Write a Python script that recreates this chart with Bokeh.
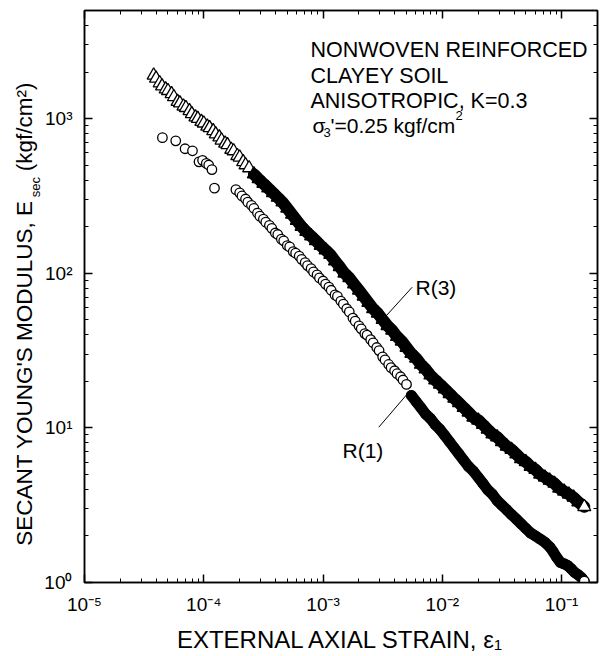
from bokeh.plotting import figure
from bokeh.models import (ColumnDataSource, FixedTicker, CustomJSTickFormatter,
                          LogAxis, LinearAxis, LinearScale, Range1d, Label, Arrow)
from bokeh.core.properties import field
from bokeh.embed import file_html
from bokeh.resources import INLINE

# ---------------------------------------------------------------------------
# Secant Young's modulus vs external axial strain, two specimens
# ---------------------------------------------------------------------------

# R(3): open triangles
r3_strain = [
    3.80e-5, 3.98e-5, 4.27e-5, 4.47e-5, 4.79e-5, 5.01e-5, 5.37e-5, 5.62e-5,
    6.03e-5, 6.31e-5, 6.76e-5, 7.08e-5, 7.59e-5, 7.94e-5, 8.51e-5, 8.91e-5,
    9.55e-5, 1.00e-4, 1.07e-4, 1.12e-4, 1.20e-4, 1.26e-4, 1.35e-4, 1.41e-4,
    1.51e-4, 1.58e-4, 1.70e-4, 1.78e-4, 1.91e-4, 2.00e-4, 2.14e-4, 2.24e-4,
    2.40e-4,
    2.63e-4, 2.88e-4, 3.16e-4, 3.47e-4, 3.80e-4, 4.17e-4, 4.57e-4, 5.01e-4,
    5.50e-4, 6.03e-4, 6.61e-4, 7.24e-4, 7.94e-4, 8.71e-4, 9.55e-4,
    1.05e-3, 1.15e-3, 1.26e-3, 1.38e-3, 1.51e-3, 1.66e-3, 1.82e-3, 2.00e-3,
    2.19e-3, 2.40e-3, 2.63e-3, 2.88e-3, 3.16e-3, 3.47e-3, 3.80e-3, 4.17e-3,
    4.57e-3, 5.01e-3, 5.50e-3, 6.03e-3, 6.61e-3, 7.24e-3, 7.94e-3, 8.71e-3,
    9.55e-3,
    1.05e-2, 1.15e-2, 1.26e-2, 1.38e-2, 1.51e-2, 1.66e-2, 1.82e-2, 2.00e-2,
    2.19e-2, 2.40e-2, 2.63e-2, 2.88e-2, 3.16e-2, 3.47e-2, 3.80e-2, 4.17e-2,
    4.57e-2, 5.01e-2, 5.50e-2, 6.03e-2, 6.61e-2, 7.24e-2, 7.94e-2, 8.71e-2,
    9.55e-2,
    0.105, 0.115, 0.126, 0.138, 0.155,
]
r3_modulus = [
    1905, 1820, 1698, 1622, 1549, 1514, 1445, 1380,
    1288, 1259, 1202, 1175, 1122, 1072, 1023, 1000,
    955, 933, 891, 871, 832, 794, 759, 724,
    692, 676, 631, 617, 575, 562, 525, 501,
    479,
    437, 407, 380, 355, 331, 309, 288, 263,
    240, 219, 200, 186, 174, 162, 151,
    141, 132, 120, 110, 100, 93.3, 85.1, 77.6,
    70.8, 64.6, 58.9, 55.0, 50.1, 45.7, 42.7, 38.9,
    36.3, 33.1, 30.2, 28.2, 25.7, 24.0, 21.9, 20.4,
    19.1,
    17.8, 16.6, 15.5, 14.5, 13.5, 12.6, 11.7, 11.2,
    10.5, 9.77, 9.12, 8.71, 8.13, 7.59, 7.24, 6.76,
    6.31, 6.03, 5.62, 5.37, 5.01, 4.79, 4.57, 4.37,
    4.07,
    3.89, 3.72, 3.55, 3.31, 3.09,
]

# R(1): open circles
r1_strain = [
    4.50e-5, 5.82e-5, 6.97e-5, 8.04e-5, 9.12e-5, 9.77e-5, 1.05e-4, 1.10e-4,
    1.17e-4, 1.23e-4,
    1.86e-4, 2.00e-4, 2.09e-4, 2.24e-4, 2.34e-4, 2.51e-4, 2.63e-4, 2.82e-4,
    2.95e-4, 3.16e-4, 3.31e-4, 3.55e-4, 3.72e-4, 3.98e-4, 4.17e-4, 4.47e-4,
    4.68e-4, 5.01e-4, 5.25e-4, 5.62e-4, 5.89e-4, 6.31e-4, 6.61e-4, 7.08e-4,
    7.41e-4, 7.94e-4, 8.32e-4, 8.91e-4, 9.33e-4,
    1.00e-3, 1.05e-3, 1.12e-3, 1.17e-3, 1.26e-3, 1.32e-3, 1.41e-3, 1.48e-3,
    1.58e-3, 1.66e-3, 1.78e-3, 1.86e-3, 2.00e-3, 2.09e-3, 2.24e-3, 2.34e-3,
    2.51e-3, 2.63e-3, 2.82e-3, 2.95e-3, 3.16e-3, 3.31e-3, 3.55e-3, 3.72e-3,
    3.98e-3, 4.17e-3, 4.47e-3, 4.68e-3, 5.01e-3,
    5.50e-3, 6.03e-3, 6.61e-3, 7.24e-3, 7.94e-3, 8.71e-3, 9.55e-3,
    1.05e-2, 1.15e-2, 1.26e-2, 1.38e-2, 1.51e-2, 1.66e-2, 1.82e-2, 2.00e-2,
    2.19e-2, 2.40e-2, 2.63e-2, 2.88e-2, 3.16e-2, 3.47e-2, 3.80e-2, 4.17e-2,
    4.57e-2, 5.01e-2, 5.50e-2, 6.03e-2, 6.61e-2, 7.24e-2, 7.94e-2, 8.51e-2,
    9.12e-2, 9.77e-2, 0.105, 0.112, 0.120, 0.129, 0.138, 0.148, 0.155,
]
r1_modulus = [
    753, 718, 638, 619, 525, 537, 513, 501,
    468, 355,
    347, 331, 316, 302, 288, 275, 263, 245,
    234, 224, 214, 204, 195, 182, 178, 166,
    162, 151, 148, 138, 135, 129, 123, 117,
    112, 107, 102, 97.7, 93.3,
    89.1, 85.1, 81.3, 77.6, 72.4, 70.8, 66.1, 63.1,
    58.9, 56.2, 51.3, 49.0, 45.7, 43.7, 40.7, 39.8,
    37.2, 35.5, 33.1, 31.6, 28.8, 27.5, 25.7, 24.5,
    23.4, 22.4, 21.4, 20.4, 19.1,
    16.2, 14.8, 13.5, 12.3, 11.5, 10.5, 9.77,
    8.91, 8.13, 7.41, 6.76, 6.17, 5.62, 5.25, 4.79,
    4.37, 3.98, 3.72, 3.39, 3.16, 2.95, 2.75, 2.57,
    2.40, 2.24, 2.09, 2.00, 1.91, 1.82, 1.70, 1.58,
    1.45, 1.35, 1.32, 1.29, 1.23, 1.16, 1.12, 1.07, 1.02,
]

# strain beyond which the recorded points are so close that they merge
r3_solid_from = 2.5e-4
r1_solid_from = 5.3e-3

x_major = [1e-5, 1e-4, 1e-3, 1e-2, 1e-1]
y_major = [1, 10, 100, 1000]

FONT = "Liberation Sans"


def series_source(strain, modulus, solid_from):
    n = len(strain)
    face = ["black" if (s >= solid_from and i < n - 1) else "white"
            for i, s in enumerate(strain)]
    return ColumnDataSource(dict(strain=strain, modulus=modulus, face=face))


def solid_part(strain, modulus, solid_from):
    pairs = [(s, m) for s, m in zip(strain, modulus) if s >= solid_from]
    return [s for s, _ in pairs], [m for _, m in pairs]


p = figure(x_axis_type="log", y_axis_type="log",
           x_range=(1e-5, 0.2), y_range=(1, 5000),
           frame_width=513, frame_height=572,
           min_border_left=84, min_border_right=3,
           min_border_top=10, min_border_bottom=74,
           output_backend="svg", toolbar_location=None,
           background_fill_color="white", border_fill_color="white")
p.grid.visible = False
p.outline_line_color = "black"
p.outline_line_width = 1.5

# log ticks: decades with minor ticks at 2..9
x_minor = [m * d for d in x_major for m in range(2, 10) if m * d <= 0.2]
y_minor = [m * d for d in y_major for m in range(2, 10) if m * d <= 5000]
xt = FixedTicker(ticks=x_major, minor_ticks=x_minor)
yt = FixedTicker(ticks=y_major, minor_ticks=y_minor)

pow_fmt = CustomJSTickFormatter(code="""
const e = Math.round(Math.log10(tick));
const sup = {"-": "\u207b", "0": "\u2070", "1": "\u00b9", "2": "\u00b2",
             "3": "\u00b3", "4": "\u2074", "5": "\u2075", "6": "\u2076",
             "7": "\u2077", "8": "\u2078", "9": "\u2079"};
return "10" + String(e).split("").map((c) => sup[c]).join("");
""")
blank_fmt = CustomJSTickFormatter(code="return '';")


def style_axis(ax):
    ax.major_tick_in = 8
    ax.major_tick_out = 0
    ax.minor_tick_in = 4
    ax.minor_tick_out = 0
    ax.axis_line_width = 1.5
    ax.axis_line_color = "black"
    ax.major_tick_line_width = 1.5
    ax.major_tick_line_color = "black"
    ax.minor_tick_line_width = 1
    ax.minor_tick_line_color = "black"


xa = p.xaxis[0]
ya = p.yaxis[0]
xa.ticker = xt
ya.ticker = yt
for ax in (xa, ya):
    style_axis(ax)
    ax.formatter = pow_fmt
    ax.major_label_text_font = FONT
    ax.major_label_text_font_size = "19px"
    ax.major_label_text_color = "black"
xa.major_label_standoff = 11
ya.major_label_standoff = 12

xa.axis_label = "EXTERNAL AXIAL STRAIN, \u03b5\u2081"
xa.axis_label_text_font = FONT
xa.axis_label_text_font_size = "24px"
xa.axis_label_text_font_style = "normal"
xa.axis_label_text_color = "black"
xa.axis_label_standoff = 8

top = LogAxis(ticker=xt, formatter=blank_fmt, major_label_text_font_size="0px",
              major_label_standoff=0)
right = LogAxis(ticker=yt, formatter=blank_fmt, major_label_text_font_size="0px",
                major_label_standoff=0)
style_axis(top)
style_axis(right)
p.add_layout(top, "above")
p.add_layout(right, "right")

# vertical title of the modulus axis, set as text on a pixel-based side range
p.extra_y_ranges = {"title": Range1d(0, 572)}
p.extra_y_scales = {"title": LinearScale()}


def title_axis(positions, texts, size, standoff):
    ax = LinearAxis(y_range_name="title",
                    ticker=FixedTicker(ticks=positions, minor_ticks=[]),
                    formatter=CustomJSTickFormatter(args=dict(labels=texts),
                                                    code="return labels[index];"),
                    major_label_orientation="vertical",
                    major_label_text_font=FONT,
                    major_label_text_font_size=size,
                    major_label_text_color="black",
                    major_label_standoff=standoff,
                    axis_line_color=None, major_tick_line_color=None,
                    minor_tick_line_color=None,
                    major_tick_in=0, major_tick_out=0,
                    minor_tick_in=0, minor_tick_out=0)
    p.add_layout(ax, "left")


title_axis([395.5], ["sec"], "13px", -1)
title_axis([209.5, 455.5], ["SECANT YOUNG'S MODULUS, E", "(kgf/cm\u00b2)"], "22.5px", -12)

# series: merged band underneath the dense points
s3x, s3y = solid_part(r3_strain, r3_modulus, r3_solid_from)
s1x, s1y = solid_part(r1_strain, r1_modulus, r1_solid_from)
p.line(s3x, s3y, line_color="black", line_width=12, line_join="round", line_cap="round")
p.line(s1x, s1y, line_color="black", line_width=11, line_join="round", line_cap="round")

src3 = series_source(r3_strain, r3_modulus, r3_solid_from)
src1 = series_source(r1_strain, r1_modulus, r1_solid_from)
p.scatter("strain", "modulus", source=src3, marker="triangle", size=13,
          fill_color=field("face"), line_color="black", line_width=1.3)
p.scatter("strain", "modulus", source=src1, marker="circle", size=9.5,
          fill_color=field("face"), line_color="black", line_width=1.3)


# text inside the frame, in screen units from the frame's lower-left corner
def text(x, y, s, size, angle=0.0):
    p.add_layout(Label(x=x, y=y, x_units="screen", y_units="screen", text=s,
                       text_font=FONT, text_font_size=size, text_color="black",
                       angle=angle, text_align="left", text_baseline="alphabetic"))


# test description
text(226, 533, "NONWOVEN REINFORCED", "21.5px")
text(226, 507, "CLAYEY SOIL", "21.5px")
text(226, 482, "ANISOTROPIC, K=0.3", "21.5px")
text(228, 457, "\u03c3", "21px")
text(239, 450, "3", "13px")
text(246, 457, "'=0.25 kgf/cm", "21px")
text(371, 467, "2", "13px")

# curve tags with leaders
text(331, 295, "R(3)", "21px")
text(258, 132, "R(1)", "21px")
p.add_layout(Arrow(x_start=327.7, y_start=295.3, x_end=302, y_end=267,
                   start_units="screen", end_units="screen", start=None, end=None,
                   line_color="black", line_width=1))
p.add_layout(Arrow(x_start=294.3, y_start=155.3, x_end=324.3, y_end=190.3,
                   start_units="screen", end_units="screen", start=None, end=None,
                   line_color="black", line_width=1))

open("out.html", "w").write(file_html(p, INLINE))
